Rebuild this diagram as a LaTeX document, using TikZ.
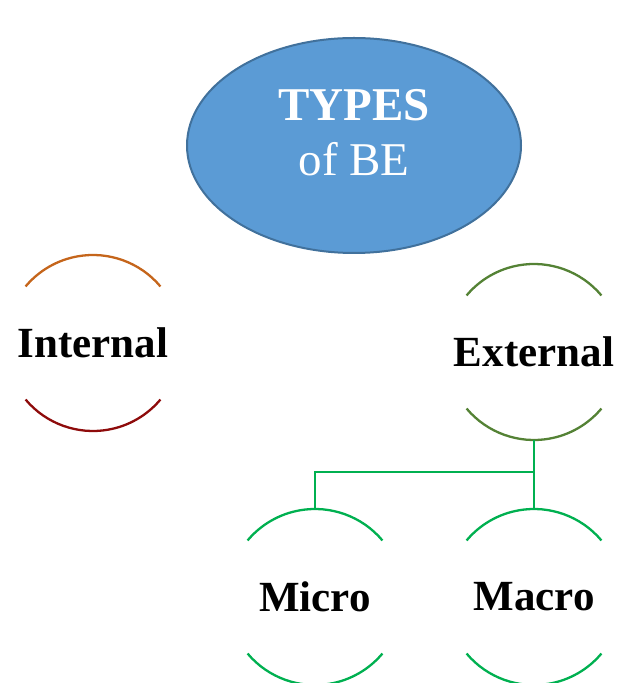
\documentclass[tikz,border=0pt]{standalone}
\usepackage{fontspec}
\setmainfont{Liberation Serif}
\definecolor{bubblefill}{HTML}{5B9BD5}
\definecolor{bubbleline}{HTML}{41719C}
\definecolor{inttop}{HTML}{C5651B}
\definecolor{intbot}{HTML}{8E0B0B}
\definecolor{extgreen}{HTML}{548235}
\definecolor{linkgreen}{HTML}{00B050}
\tikzset{
  bubble/.style={ellipse, draw=bubbleline, line width=2pt, fill=bubblefill,
    minimum width=334pt, minimum height=215pt},
  topic/.style={circle, minimum size=176pt, inner sep=0pt, outer sep=0pt,
    font=\bfseries\fontsize{43}{48}\selectfont},
  rim/.style={line width=2.3pt},
  link/.style={draw=linkgreen, line width=2.8pt}
}
\usetikzlibrary{shapes.geometric}
\begin{document}
\begin{tikzpicture}[x=1pt,y=1pt]
    \useasboundingbox (0,0) rectangle (625,683);
    %% title bubble
    \node[bubble] (types) at (354,537.5) {};
    \node[text=white, align=center, font=\fontsize{47}{55}\selectfont]
      (typestext) at ([yshift=13pt]types.center) {\textbf{TYPES}\\of BE};
    %% the kinds
    \node[topic] (int) at (93,340) {Internal};
    \node[topic] (ext) at (534,331) {External};
    \node[topic] (micro) at (315,86) {Micro};
    \node[topic] (macro) at (534,86) {Macro};
    %% half rims round the kinds
    \draw[rim, inttop] (int.40) arc (40:140:88pt);
    \draw[rim, intbot] (int.220) arc (220:320:88pt);
    \draw[rim, extgreen] (ext.40) arc (40:140:88pt);
    \draw[rim, extgreen] (ext.220) arc (220:320:88pt);
    \foreach \k in {micro,macro} {
      \draw[rim, linkgreen] (\k.40) arc (40:140:88pt);
      \draw[rim, linkgreen] (\k.220) arc (220:320:88pt);
    }
    %% external splits in two
    \draw[link] (ext.south) -- ++(0,-32) coordinate (split) -| (micro.north);
    \draw[link] (split) -- (macro.north);
\end{tikzpicture}
\end{document}
